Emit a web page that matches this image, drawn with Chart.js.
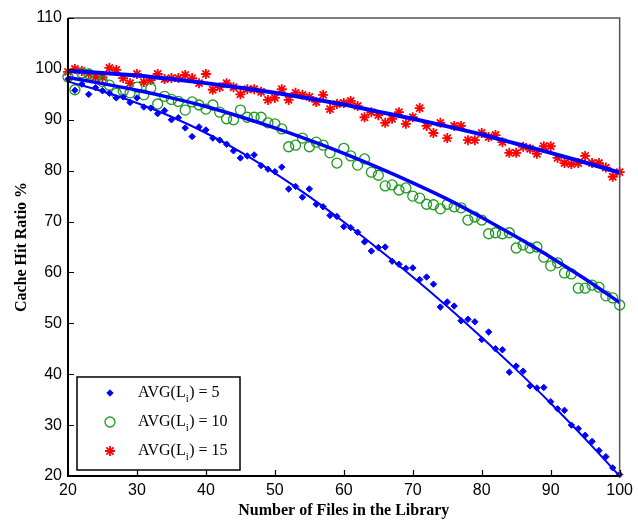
<!DOCTYPE html>
<html>
<head>
<meta charset="utf-8">
<title>Cache Hit Ratio</title>
<script src="https://cdn.jsdelivr.net/npm/chart.js@4.4.0/dist/chart.umd.min.js"></script>
<style>
  html, body { margin: 0; padding: 0; background: #fff; }
  #wrap { width: 638px; height: 520px; }
</style>
</head>
<body>
<div id="wrap"><canvas id="chart" width="638" height="520"></canvas></div>
<script>
/* Cache hit ratio vs. library size, three average file lengths */

var files = [20, 21, 22, 23, 24, 25, 26, 27, 28, 29,
             30, 31, 32, 33, 34, 35, 36, 37, 38, 39,
             40, 41, 42, 43, 44, 45, 46, 47, 48, 49,
             50, 51, 52, 53, 54, 55, 56, 57, 58, 59,
             60, 61, 62, 63, 64, 65, 66, 67, 68, 69,
             70, 71, 72, 73, 74, 75, 76, 77, 78, 79,
             80, 81, 82, 83, 84, 85, 86, 87, 88, 89,
             90, 91, 92, 93, 94, 95, 96, 97, 98, 99, 100];

// measured hit ratio (%)
var hitAvg5 = [98.0, 95.8, 97.0, 95.0, 96.3, 95.7, 95.2, 94.3, 94.5, 93.4,
               94.3, 92.5, 92.3, 91.2, 91.8, 90.0, 90.4, 88.4, 86.7, 88.6,
               88.0, 86.4, 86.0, 85.2, 83.9, 82.5, 82.9, 83.1, 81.0, 80.3,
               79.8, 80.7, 76.4, 76.9, 74.8, 76.4, 73.4, 72.9, 71.2, 71.0,
               69.0, 68.8, 67.9, 66.0, 64.2, 64.9, 65.0, 62.2, 61.6, 60.8,
               60.9, 58.6, 59.1, 57.7, 53.2, 54.2, 53.4, 50.5, 50.8, 50.3,
               46.8, 48.3, 45.0, 44.8, 40.4, 41.6, 40.6, 37.7, 37.3, 37.4,
               34.6, 33.2, 32.9, 30.0, 29.3, 28.0, 26.8, 25.0, 23.8, 21.6, 20.3];

var hitAvg10 = [98.4, 95.9, 99.2, 99.0, 98.2, 97.5, 96.8, 95.2, 95.6, 95.3,
                96.4, 94.9, 96.2, 93.1, 94.6, 94.0, 93.6, 91.9, 93.5, 92.9,
                92.1, 92.9, 91.5, 90.2, 90.0, 91.9, 90.5, 90.5, 90.5, 89.4,
                89.2, 88.2, 84.7, 85.0, 86.4, 84.7, 85.6, 85.0, 83.5, 81.5,
                84.4, 82.9, 81.1, 82.3, 79.7, 79.1, 77.0, 77.2, 76.2, 76.6,
                75.0, 74.6, 73.4, 73.3, 72.5, 73.4, 72.9, 72.7, 70.3, 70.9,
                70.3, 67.6, 67.8, 67.6, 67.8, 64.8, 65.4, 64.8, 65.0, 63.0,
                61.3, 61.9, 59.9, 59.7, 56.9, 56.9, 57.5, 57.1, 55.4, 55.0, 53.6];

var hitAvg15 = [99.4, 100.0, 99.6, 99.1, 98.4, 98.4, 100.2, 99.8, 98.2, 97.2,
                99.0, 97.4, 97.8, 99.0, 98.0, 98.2, 98.2, 98.8, 98.2, 97.2,
                99.0, 95.9, 96.4, 97.2, 96.4, 95.0, 96.0, 96.0, 95.5, 93.9,
                94.3, 96.0, 93.9, 95.3, 94.9, 94.5, 93.5, 94.9, 92.1, 93.1,
                93.3, 93.7, 92.7, 90.5, 91.5, 90.9, 89.4, 90.2, 91.5, 89.2,
                90.5, 92.3, 88.8, 87.4, 89.4, 86.4, 88.8, 88.8, 86.0, 86.0,
                87.4, 86.6, 87.0, 85.6, 83.5, 83.5, 84.7, 84.3, 83.3, 84.8,
                84.8, 82.5, 81.5, 81.3, 81.5, 82.9, 81.5, 81.5, 80.6, 78.8, 79.7];

// fitted curves
var fitFiles = [20, 25, 30, 35, 40, 45, 50, 55, 60, 65, 70, 75, 80, 85, 90, 95, 100];
var fitAvg5  = [97.5, 95.6, 93.3, 90.6, 87.4, 83.7, 79.5, 74.9, 69.9, 64.6, 59.1, 53.3, 47.2, 40.9, 34.3, 27.3, 20.0];
var fitAvg10 = [98.3, 97.1, 95.8, 94.3, 92.6, 90.6, 88.4, 86.0, 83.4, 80.6, 77.6, 74.4, 70.8, 67.0, 63.0, 58.7, 54.1];
var fitAvg15 = [99.6, 99.2, 98.7, 98.0, 97.2, 96.3, 95.3, 94.2, 93.0, 91.6, 90.2, 88.7, 87.1, 85.3, 83.5, 81.6, 79.6];

var xTicks = [20, 30, 40, 50, 60, 70, 80, 90, 100];
var yTicks = [20, 30, 40, 50, 60, 70, 80, 90, 100, 110];

var legendNames = ['5', '10', '15'];

var BLUE = '#0000ff', GREEN = '#1f9a1f', RED = '#ff0000';

function pairs(xs, ys) {
  return xs.map(function (x, i) { return { x: x, y: ys[i] }; });
}

function fitLine(values, width) {
  return {
    data: pairs(fitFiles, values),
    showLine: true,
    borderColor: BLUE,
    borderWidth: width,
    pointRadius: 0,
    cubicInterpolationMode: 'monotone',
    clip: false
  };
}

var markers = [
  { pointStyle: 'rectRot', radius: 3.2, fill: BLUE, stroke: BLUE, width: 1 },
  { pointStyle: 'circle', radius: 5, fill: 'rgba(0,0,0,0)', stroke: GREEN, width: 1.3 },
  { pointStyle: 'star', radius: 5, fill: RED, stroke: RED, width: 1.8 }
];

function markerSet(values, m) {
  return {
    data: pairs(files, values),
    pointStyle: m.pointStyle,
    pointRadius: m.radius,
    backgroundColor: m.fill,
    borderColor: m.stroke,
    borderWidth: m.width,
    clip: false
  };
}

// box, inward tick marks
var axesFrame = {
  id: 'axesFrame',
  afterDatasetsDraw: function (chart) {
    var ctx = chart.ctx, a = chart.chartArea;
    var xs = chart.scales.x, ys = chart.scales.y;
    ctx.save();
    ctx.strokeStyle = '#555';
    ctx.lineWidth = 1.5;
    ctx.beginPath();
    ctx.moveTo(a.left, a.top);
    ctx.lineTo(a.right, a.top);
    ctx.lineTo(a.right, a.bottom);
    ctx.stroke();

    ctx.strokeStyle = '#000';
    ctx.lineWidth = 2;
    ctx.beginPath();
    ctx.moveTo(a.left, a.top);
    ctx.lineTo(a.left, a.bottom);
    ctx.lineTo(a.right, a.bottom);
    ctx.stroke();

    ctx.lineWidth = 1.2;
    ctx.beginPath();
    xTicks.forEach(function (v) {
      var px = Math.round(xs.getPixelForValue(v)) + 0.5;
      ctx.moveTo(px, a.bottom);
      ctx.lineTo(px, a.bottom - 6);
    });
    yTicks.forEach(function (v) {
      var py = Math.round(ys.getPixelForValue(v)) + 0.5;
      ctx.moveTo(a.left, py);
      ctx.lineTo(a.left + 6, py);
    });
    ctx.stroke();
    ctx.restore();
  }
};

// legend with subscript i
var legendBox = {
  id: 'legendBox',
  afterDraw: function (chart) {
    var ctx = chart.ctx, a = chart.chartArea;
    var w = 163, h = 93;
    var left = a.left + 9, top = a.bottom - 6 - h;
    ctx.save();
    ctx.fillStyle = '#fff';
    ctx.fillRect(left, top, w, h);
    ctx.strokeStyle = '#000';
    ctx.lineWidth = 1.5;
    ctx.strokeRect(left, top, w, h);

    ctx.textBaseline = 'middle';
    ctx.textAlign = 'left';
    legendNames.forEach(function (name, i) {
      var ry = top + 16 + i * 29;
      var m = markers[i];
      ctx.fillStyle = m.fill;
      ctx.strokeStyle = m.stroke;
      ctx.lineWidth = m.width;
      Chart.helpers.drawPoint(ctx, { pointStyle: m.pointStyle, radius: m.radius, rotation: 0, borderWidth: m.width }, left + 33, ry);

      var tx = left + 61;
      ctx.fillStyle = '#000';
      ctx.font = '16px "Liberation Serif", "Times New Roman", serif';
      ctx.fillText('AVG(L', tx, ry);
      tx += ctx.measureText('AVG(L').width;
      ctx.font = '11px "Liberation Serif", "Times New Roman", serif';
      ctx.fillText('i', tx, ry + 6);
      tx += ctx.measureText('i').width + 0.5;
      ctx.font = '16px "Liberation Serif", "Times New Roman", serif';
      ctx.fillText(') = ' + name, tx, ry);
    });
    ctx.restore();
  }
};

var tickFont = { family: '"Liberation Sans", Arial, sans-serif', size: 16 };
var titleFont = { family: '"Liberation Serif", "Times New Roman", serif', size: 16, weight: 'bold' };

new Chart(document.getElementById('chart'), {
  type: 'scatter',
  data: {
    datasets: [
      fitLine(fitAvg5, 2),
      fitLine(fitAvg10, 3.5),
      fitLine(fitAvg15, 4),
      markerSet(hitAvg5, markers[0]),
      markerSet(hitAvg10, markers[1]),
      markerSet(hitAvg15, markers[2])
    ]
  },
  options: {
    responsive: false,
    animation: false,
    layout: { padding: { top: 18, right: 12, left: 0, bottom: 0 } },
    plugins: {
      legend: { display: false },
      tooltip: { enabled: false }
    },
    scales: {
      x: {
        type: 'linear',
        min: 20,
        max: 100,
        afterBuildTicks: function (s) { s.ticks = xTicks.map(function (v) { return { value: v }; }); },
        ticks: { color: '#000', font: tickFont, padding: 5, maxRotation: 0 },
        grid: { display: false, drawTicks: false },
        border: { display: false },
        title: { display: true, text: 'Number of Files in the Library', color: '#000', font: titleFont, padding: { top: 0, bottom: 0 } },
        afterFit: function (s) { s.height = 44; }
      },
      y: {
        type: 'linear',
        min: 20,
        max: 110,
        afterBuildTicks: function (s) { s.ticks = yTicks.map(function (v) { return { value: v }; }); },
        ticks: { color: '#000', font: tickFont, padding: 6 },
        grid: { display: false, drawTicks: false },
        border: { display: false },
        title: { display: true, text: 'Cache Hit Ratio %', color: '#000', font: titleFont, padding: { top: 12, bottom: 0 } },
        afterFit: function (s) { s.width = 68; }
      }
    }
  },
  plugins: [axesFrame, legendBox]
});
</script>
</body>
</html>
